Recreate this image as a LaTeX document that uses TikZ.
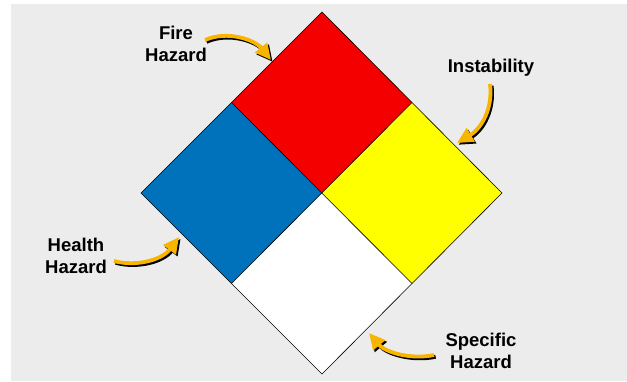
\documentclass[tikz,border=0pt]{standalone}
\usepackage{fontspec}
\setmainfont{Liberation Sans}
\usetikzlibrary{arrows.meta,calc}
\definecolor{bgray}{HTML}{ECECEC}
\definecolor{nfpared}{HTML}{F50000}
\definecolor{nfpablue}{HTML}{0072BC}
\definecolor{nfpayellow}{HTML}{FFFF00}
\definecolor{gold}{HTML}{F8B500}
\tikzset{
  quad/.style={draw=black, line width=0.6pt, line join=miter},
  lab/.style={align=center, inner sep=0pt, font=\bfseries\fontsize{18.5}{22}\selectfont},
  garrow/.style={draw=gold, line width=3.8pt, -{Triangle[length=16pt,width=15pt]}},
  gshadow/.style={draw=black, line width=3.8pt, -{Triangle[length=16pt,width=15pt]},
    transform canvas={shift={(1.6pt,-1.8pt)}}}
}
\begin{document}
\begin{tikzpicture}[x=1pt,y=-1pt]
\useasboundingbox (0,0) rectangle (627,381);
\fill[white] (0,0) rectangle (627,381);
\fill[bgray] (11,4) rectangle (627,381);
% diamond vertices
\coordinate (T) at (322,12);
\coordinate (L) at (141,193);
\coordinate (R) at (502,193);
\coordinate (B) at (322,374);
\coordinate (C) at (322,193);
\coordinate (TL) at ($(T)!0.5!(L)$);
\coordinate (TR) at ($(T)!0.5!(R)$);
\coordinate (BL) at ($(B)!0.5!(L)$);
\coordinate (BR) at ($(B)!0.5!(R)$);
\fill[nfpared] (T) -- (TR) -- (C) -- (TL) -- cycle;
\fill[nfpablue] (TL) -- (C) -- (BL) -- (L) -- cycle;
\fill[nfpayellow] (TR) -- (R) -- (BR) -- (C) -- cycle;
\fill[white] (C) -- (BR) -- (B) -- (BL) -- cycle;
\draw[quad] (T) -- (R) -- (B) -- (L) -- cycle;
\draw[quad] (TL) -- (BR) (TR) -- (BL);
% labels
\node[lab] (fire) at (176,44) {Fire\\Hazard};
\node[lab] (inst) at (491,68) {Instability};
\node[lab] (health) at (76,256) {Health\\Hazard};
\node[lab] (spec) at (481,351) {Specific\\Hazard};
% arrow ends
\coordinate (fa) at (205,40);  \coordinate (fb) at (271,60);
\coordinate (ia) at (490,84);  \coordinate (ib) at (457,143);
\coordinate (ha) at (114,261); \coordinate (hb) at (179,237);
\coordinate (sa) at (434,355); \coordinate (sb) at (369,333);
\foreach \s in {gshadow,garrow}{
  \draw[\s] (fa) .. controls (228,30) and (255,40) .. (fb);
  \draw[\s] (ia) .. controls (493,108) and (482,128) .. (ib);
  \draw[\s] (ha) .. controls (136,267) and (162,260) .. (hb);
  \draw[\s] (sa) .. controls (410,360) and (385,352) .. (sb);
}
\end{tikzpicture}
\end{document}
